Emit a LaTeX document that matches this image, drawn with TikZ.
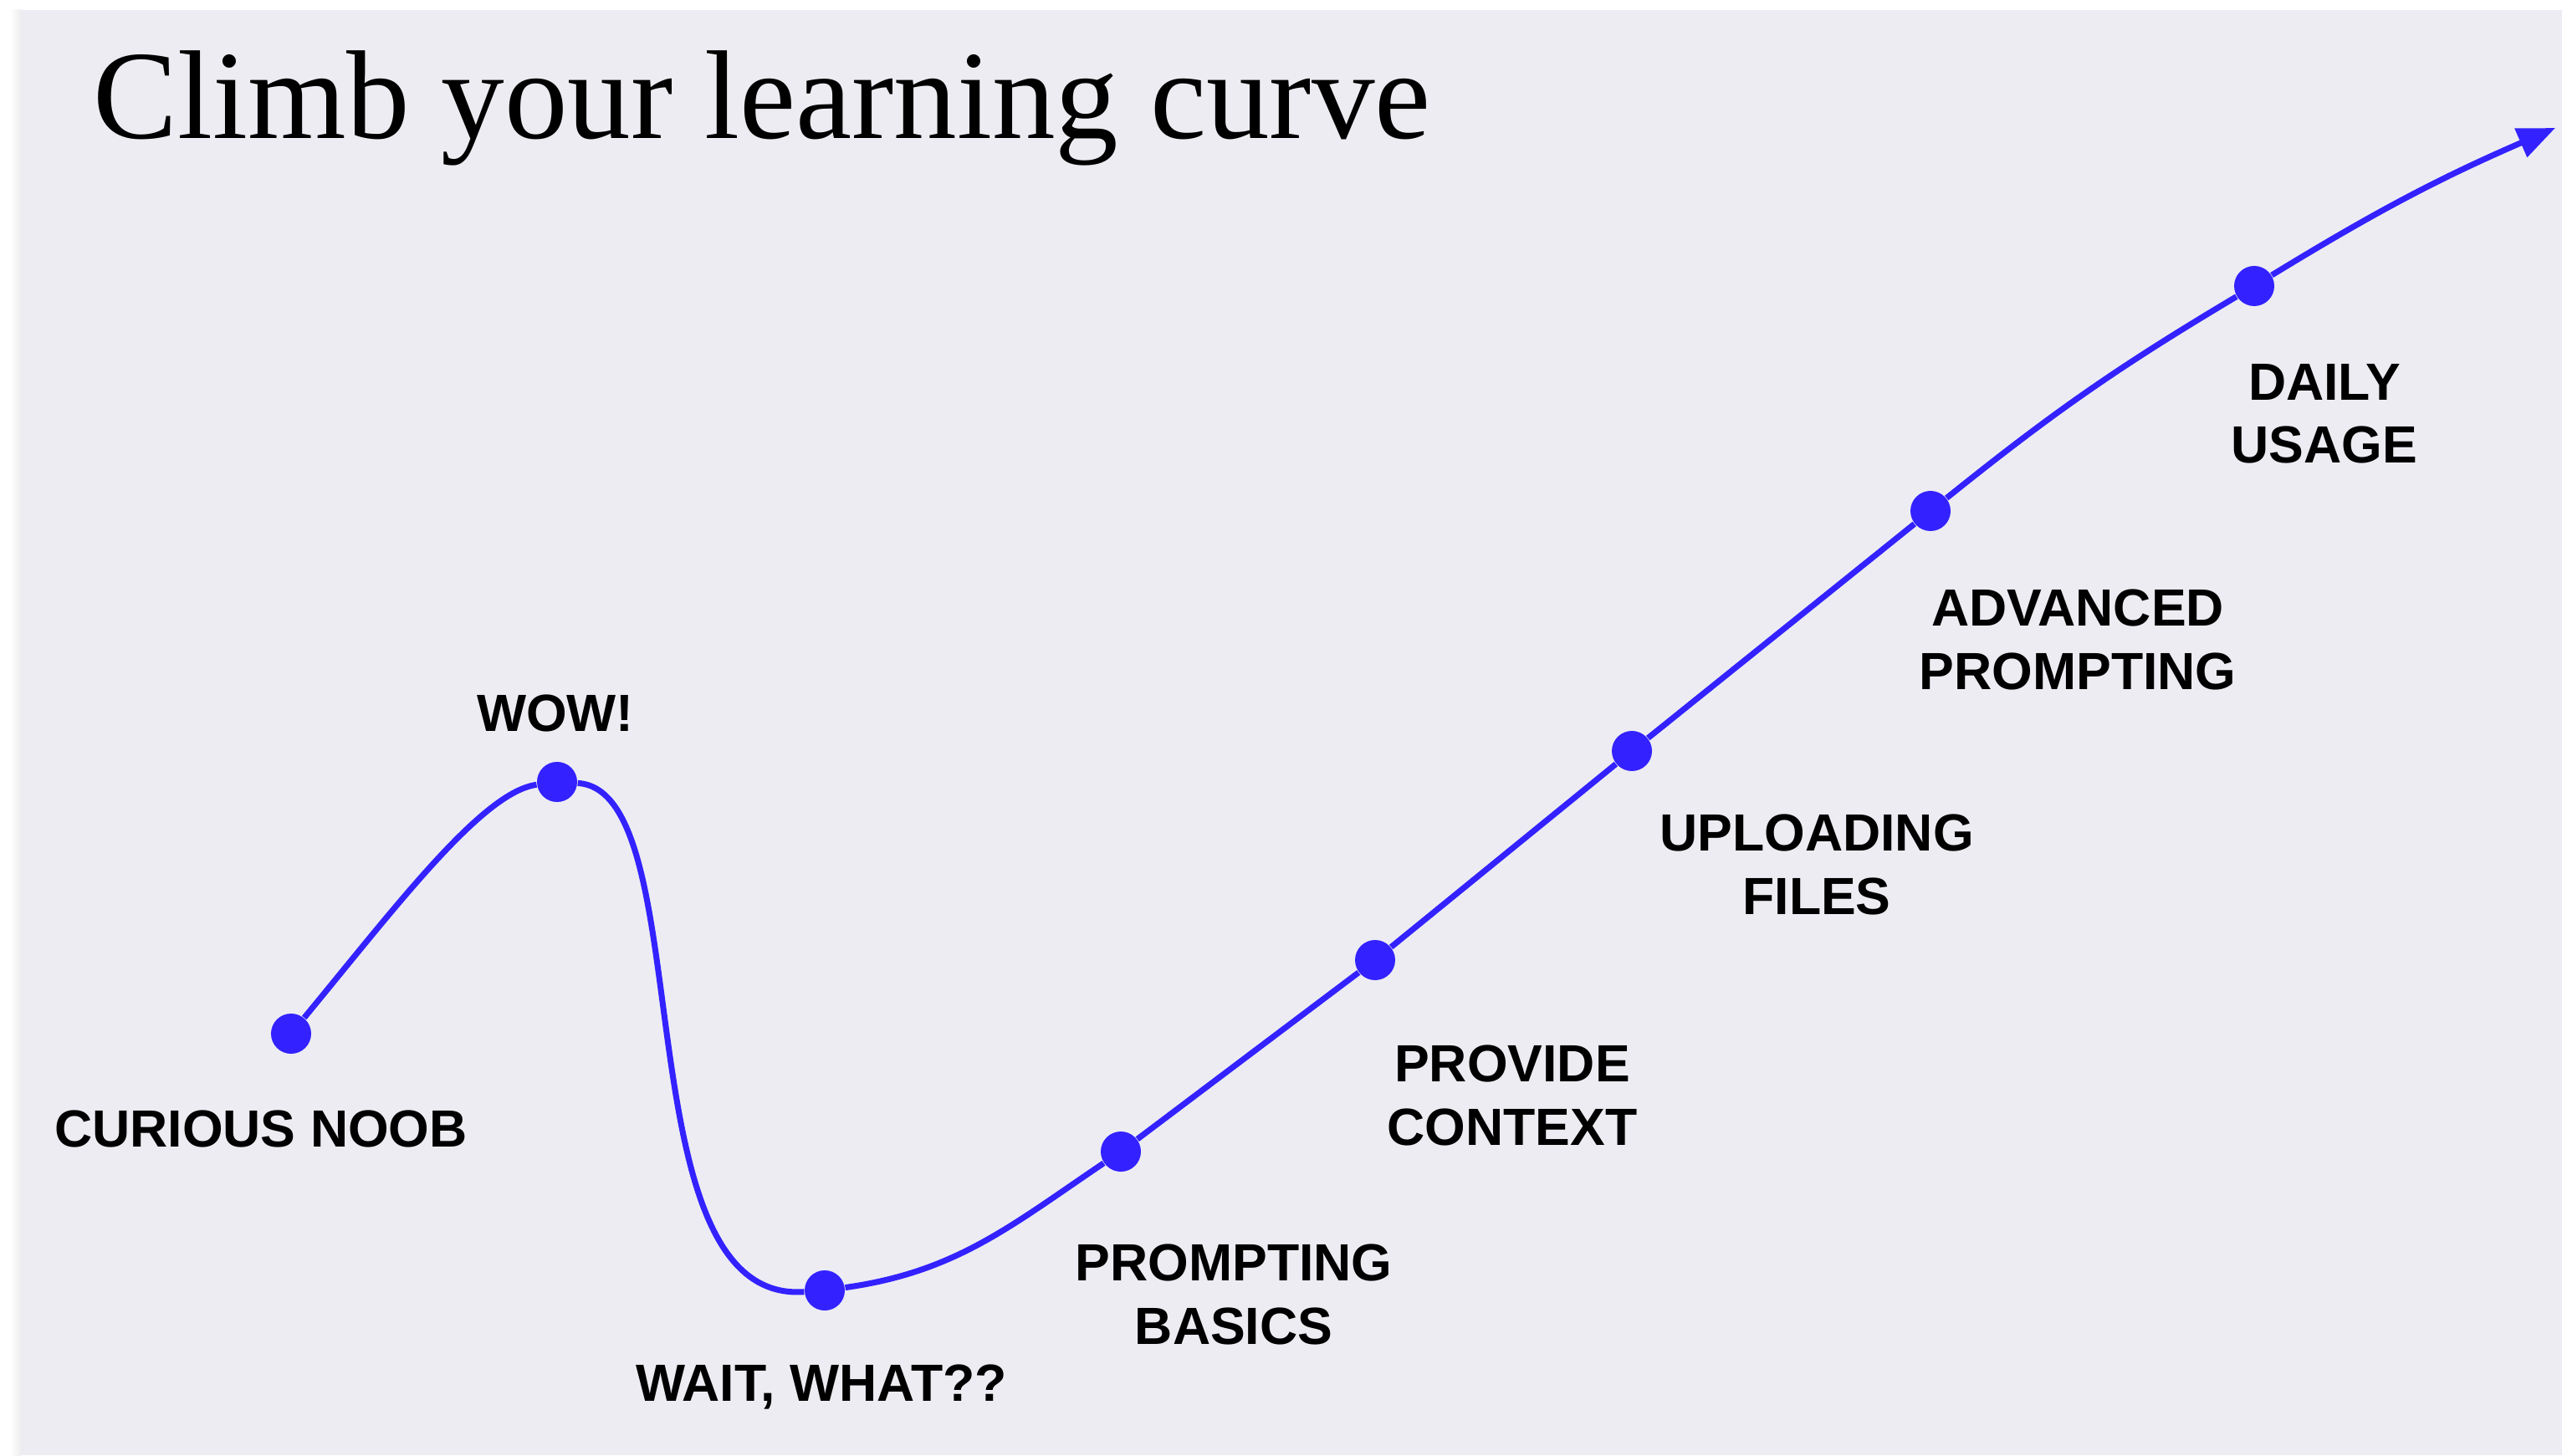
\documentclass[tikz,border=0pt]{standalone}
\usepackage{fontspec}
\setmainfont{Liberation Serif}
\newfontfamily\lblfont{Liberation Sans}
\usetikzlibrary{arrows.meta}
\usepackage{xcolor}
\definecolor{climbblue}{HTML}{3322FF}
\definecolor{slidebg}{HTML}{EDECF2}

\begin{document}
\begin{tikzpicture}[
  stage/.style={circle, fill=climbblue, inner sep=0pt, minimum size=4.8mm},
  lbl/.style={font=\lblfont\bfseries\fontsize{17.8}{21.5}\selectfont, align=center, inner sep=0pt},
  climb/.style={climbblue, line width=2pt}
]
% page and slide
\useasboundingbox (0,0) rectangle (30.63,17.40);
\fill[white] (0,0) rectangle (30.63,17.40);
\shade[left color=white, right color=black!7] (0.12,0) rectangle (0.25,17.28);
\fill[slidebg] (0.25,0) rectangle (30.63,17.28);

\node[anchor=base west, font=\fontsize{43}{50}\selectfont, inner sep=0pt] (title) at (1.11,15.74) {Climb your learning curve};

% stages on the curve
\node[stage] (noob) at (3.48,5.04) {};
\node[stage] (wow) at (6.66,8.05) {};
\node[stage] (wait) at (9.86,1.97) {};
\node[stage] (basics) at (13.40,3.63) {};
\node[stage] (context) at (16.44,5.92) {};
\node[stage] (files) at (19.51,8.42) {};
\node[stage] (advanced) at (23.08,11.29) {};
\node[stage] (daily) at (26.95,13.98) {};
\coordinate (tip) at (30.55,15.87);

% the curve
\draw[climb] (noob) .. controls (4.75,6.58) and (5.77,7.93) .. (wow);
\draw[climb] (wow) .. controls (8.40,7.95) and (7.40,1.80) .. (wait);
\draw[climb] (wait) to[out=8, in=214] (basics);
\draw[climb] (basics) -- (context);
\draw[climb] (context) -- (files);
\draw[climb] (files) -- (advanced);
\draw[climb] (advanced) to[bend left=4] (daily);
\draw[climb, -{Triangle[length=4.5mm, width=3.6mm]}] (daily) to[bend left=4] (tip);

% labels
\node[lbl] (lnoob) at (3.12,3.90) {CURIOUS NOOB};
\node[lbl] (lwow) at (6.64,8.87) {WOW!};
\node[lbl] (lwait) at (9.82,0.82) {WAIT, WHAT??};
\node[lbl] (lbasics) at (14.75,1.92) {PROMPTING\\BASICS};
\node[lbl] (lcontext) at (18.08,4.30) {PROVIDE\\CONTEXT};
\node[lbl] (lfiles) at (21.72,7.06) {UPLOADING\\FILES};
\node[lbl] (ladvanced) at (24.84,9.75) {ADVANCED\\PROMPTING};
\node[lbl] (ldaily) at (27.79,12.45) {DAILY\\USAGE};
\end{tikzpicture}
\end{document}
